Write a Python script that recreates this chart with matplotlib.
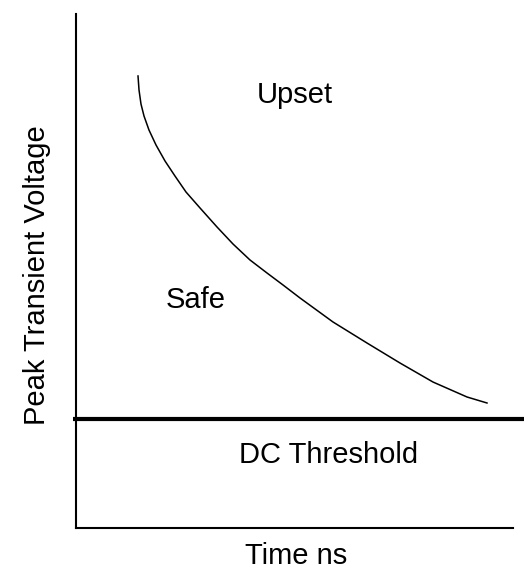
import matplotlib
matplotlib.use("Agg")
import matplotlib.pyplot as plt

plt.rcParams['font.family'] = ['Liberation Sans', 'DejaVu Sans']

# Curve (arbitrary units): time vs peak transient voltage
time_vals = [1.419, 1.442, 1.487, 1.556, 1.670, 1.831, 2.037, 2.265, 2.517,
             2.838, 3.227, 3.593, 3.982, 4.371, 4.737, 5.126, 5.881, 6.659,
             7.414, 8.169, 8.947, 9.405]
voltage_vals = [8.794, 8.521, 8.249, 8.016, 7.743, 7.451, 7.140, 6.848, 6.537,
                6.226, 5.856, 5.525, 5.214, 4.961, 4.728, 4.475, 4.008, 3.599,
                3.210, 2.840, 2.549, 2.432]
dc_threshold = 2.12
threshold_x = [-0.07, 10.25]

region_labels = ["Upset", "Safe", "DC Threshold"]
region_x = [5.01, 2.75, 5.79]
region_y = [8.27, 4.28, 1.26]

fig = plt.figure(figsize=(5.24, 5.71), dpi=100)
ax = fig.add_axes([76/524, 1 - 528/571, (513-76)/524, (528-14)/571])
ax.set_xlim(0, 10)
ax.set_ylim(0, 10)

ax.plot(time_vals, voltage_vals, color='black', lw=1.1)
ax.plot(threshold_x, [dc_threshold, dc_threshold], color='black', lw=3.0,
        clip_on=False, solid_capstyle='butt')

for lab, x, y in zip(region_labels, region_x, region_y):
    ax.text(x, y, lab, ha='center', va='baseline', fontsize=21)

for s in ['top', 'right']:
    ax.spines[s].set_visible(False)
for s in ['left', 'bottom']:
    ax.spines[s].set_linewidth(1.5)
ax.set_xticks([])
ax.set_yticks([])

ax.set_xlabel("Time ns", fontsize=21, va='baseline')
ax.xaxis.set_label_coords(0.503, -0.071)
ax.set_ylabel("Peak Transient Voltage", fontsize=21, va='center', ha='center')
ax.yaxis.set_label_coords(-0.089, 0.492)

fig.savefig("out.png", dpi=100)
